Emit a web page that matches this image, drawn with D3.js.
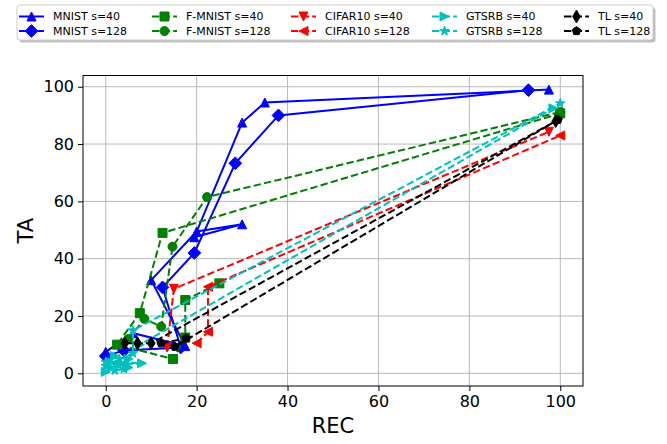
<!DOCTYPE html>
<html>
<head>
<meta charset="utf-8">
<script src="https://cdn.jsdelivr.net/npm/d3@7"></script>
<style>
  body { margin: 0; background: #fff; }
  svg { display: block; font-family: "DejaVu Sans", sans-serif; }
</style>
</head>
<body>
<svg width="667" height="444"></svg>
<script>
// values: [REC, TA]
var mnist40   = [[0, 7.5], [6, 14], [17.5, 9.5], [10, 32.5], [20, 49.5], [30, 52], [19.5, 47.5], [30, 87.5], [35, 94.5], [97.5, 99]];
var mnist128  = [[93, 98.8], [38, 90], [28.5, 73.3], [19.5, 42], [12.5, 30], [16.5, 9], [4, 8], [0, 6]];
var fmnist40  = [[25, 31.4], [17.5, 25.6], [17.5, 12.5], [14.8, 5], [2.5, 10], [7.5, 21], [12.5, 49], [100, 90.7]];
var fmnist128 = [[5, 12], [8.5, 19], [12.2, 16.3], [14.7, 44.2], [22.3, 61.5], [100, 91.2]];
var cifar40   = [[13.5, 9], [15, 29.5], [97.5, 84.3]];
var cifar128  = [[20, 10.5], [22.5, 14.5], [22.5, 30.2], [100, 83]];
var gtsrb40   = [[0, 0.5], [3, 3], [8, 3.5], [1, 4], [2, 6], [5, 2], [5, 5], [7.5, 10], [98.5, 92.5]];
var gtsrb128  = [[0, 4], [1, 2], [3, 5], [4, 1.5], [2, 1], [0, 2.5], [6, 7], [6, 15], [100, 94.2]];
var tl40      = [[4.2, 10.5], [7, 10.5], [10, 10.5], [99, 88]];
var tl128     = [[12.2, 10.5], [17.7, 12.2], [15.2, 9.3], [99.5, 88.5]];

var xTicks = [0, 20, 40, 60, 80, 100];
var yTicks = [0, 20, 40, 60, 80, 100];

var series = [
  { label: "MNIST s=40",    data: mnist40,   color: "#0000ff", marker: "^", dash: false },
  { label: "MNIST s=128",   data: mnist128,  color: "#0000ff", marker: "D", dash: false },
  { label: "F-MNIST s=40",  data: fmnist40,  color: "#008000", marker: "s", dash: true },
  { label: "F-MNIST s=128", data: fmnist128, color: "#008000", marker: "o", dash: true },
  { label: "CIFAR10 s=40",  data: cifar40,   color: "#ff0000", marker: "v", dash: true },
  { label: "CIFAR10 s=128", data: cifar128,  color: "#ff0000", marker: "<", dash: true },
  { label: "GTSRB s=40",    data: gtsrb40,   color: "#00bfbf", marker: ">", dash: true },
  { label: "GTSRB s=128",   data: gtsrb128,  color: "#00bfbf", marker: "*", dash: true },
  { label: "TL s=40",       data: tl40,      color: "#000000", marker: "d", dash: true },
  { label: "TL s=128",      data: tl128,     color: "#000000", marker: "p", dash: true }
];

var margin = { left: 83, right: 84, top: 75.5, bottom: 58 };
var W = 667, H = 444;
var ms = 9; // marker size in px

var svg = d3.select("svg");

function padded(vals) {
  var e = d3.extent(vals), r = e[1] - e[0];
  return [e[0] - 0.05 * r, e[1] + 0.05 * r];
}
var allPts = d3.merge(series.map(function (s) { return s.data; }));
var xscale = d3.scaleLinear().domain(padded(allPts.map(function (p) { return p[0]; })))
  .range([margin.left, W - margin.right]);
var yscale = d3.scaleLinear().domain(padded(allPts.map(function (p) { return p[1]; })))
  .range([H - margin.bottom, margin.top]);

// marker shapes, matplotlib-like
function markerPath(m, size) {
  var h = size / 2;
  function poly(pts) { return "M" + pts.map(function (p) { return p[0].toFixed(2) + "," + p[1].toFixed(2); }).join("L") + "Z"; }
  function regular(n, r, inner) {
    var pts = [];
    for (var i = 0; i < n; i++) {
      var a = -Math.PI / 2 + i * 2 * Math.PI / n;
      pts.push([r * Math.cos(a), r * Math.sin(a)]);
      if (inner) {
        var b = a + Math.PI / n;
        pts.push([r * inner * Math.cos(b), r * inner * Math.sin(b)]);
      }
    }
    return poly(pts);
  }
  var d = h * Math.SQRT2;
  switch (m) {
    case "^": return poly([[0, -h], [h, h], [-h, h]]);
    case "v": return poly([[0, h], [h, -h], [-h, -h]]);
    case "<": return poly([[-h, 0], [h, -h], [h, h]]);
    case ">": return poly([[h, 0], [-h, -h], [-h, h]]);
    case "D": return poly([[0, -d], [d, 0], [0, d], [-d, 0]]);
    case "d": return poly([[0, -d], [d * 0.6, 0], [0, d], [-d * 0.6, 0]]);
    case "s": return poly([[-h, -h], [h, -h], [h, h], [-h, h]]);
    case "o": return "M" + h + ",0A" + h + "," + h + " 0 1,1 " + (-h) + ",0A" + h + "," + h + " 0 1,1 " + h + ",0Z";
    case "*": return regular(5, h * 1.1, 0.381966);
    case "p": return regular(5, h);
  }
}

// grid
var grid = svg.append("g");
grid.selectAll(".gx").data(xTicks).enter().append("line")
  .attr("x1", function (d) { return xscale(d); }).attr("x2", function (d) { return xscale(d); })
  .attr("y1", margin.top).attr("y2", H - margin.bottom)
  .attr("stroke", "#b0b0b0").attr("stroke-width", 0.9);
grid.selectAll(".gy").data(yTicks).enter().append("line")
  .attr("y1", function (d) { return yscale(d); }).attr("y2", function (d) { return yscale(d); })
  .attr("x1", margin.left).attr("x2", W - margin.right)
  .attr("stroke", "#b0b0b0").attr("stroke-width", 0.9);

// lines + markers
var line = d3.line().x(function (p) { return xscale(p[0]); }).y(function (p) { return yscale(p[1]); });
series.forEach(function (s) {
  var g = svg.append("g");
  g.append("path").attr("d", line(s.data))
    .attr("fill", "none").attr("stroke", s.color).attr("stroke-width", 2)
    .attr("stroke-dasharray", s.dash ? "7.4,3.2" : null);
  g.selectAll("path.mk").data(s.data).enter().append("path")
    .attr("class", "mk")
    .attr("d", markerPath(s.marker, ms))
    .attr("transform", function (p) { return "translate(" + xscale(p[0]) + "," + yscale(p[1]) + ")"; })
    .attr("fill", s.color).attr("stroke", s.color).attr("stroke-width", 1);
});

// frame
svg.append("rect")
  .attr("x", margin.left).attr("y", margin.top)
  .attr("width", W - margin.left - margin.right).attr("height", H - margin.top - margin.bottom)
  .attr("fill", "none").attr("stroke", "#000").attr("stroke-width", 1);

// axes
var xAxis = svg.append("g").attr("transform", "translate(0," + (H - margin.bottom) + ")")
  .call(d3.axisBottom(xscale).tickValues(xTicks).tickSize(5).tickPadding(5).tickSizeOuter(0));
var yAxis = svg.append("g").attr("transform", "translate(" + margin.left + ",0)")
  .call(d3.axisLeft(yscale).tickValues(yTicks).tickSize(5).tickPadding(4).tickSizeOuter(0));
[xAxis, yAxis].forEach(function (a) {
  a.select(".domain").remove();
  a.selectAll("text").attr("font-size", 16).attr("font-family", "DejaVu Sans").attr("fill", "#000");
  a.selectAll("line").attr("stroke", "#000");
});

svg.append("text").attr("x", xscale(50)).attr("y", 433)
  .attr("text-anchor", "middle").attr("font-size", 21).text("REC");
svg.append("text").attr("transform", "translate(33," + ((margin.top + H - margin.bottom) / 2) + ") rotate(-90)")
  .attr("text-anchor", "middle").attr("font-size", 21).text("TA");

// legend, 5 columns x 2 rows
var legX = [19, 152, 291, 432, 564];
var legY = [16.5, 31];
var leg = svg.append("g");
leg.append("rect").attr("x", 19.5).attr("y", 7.5).attr("width", 636).attr("height", 35).attr("rx", 3)
  .attr("fill", "#808080").attr("opacity", 0.5);
leg.append("rect").attr("x", 17).attr("y", 5).attr("width", 636).attr("height", 35).attr("rx", 3)
  .attr("fill", "#fff").attr("stroke", "#cccccc").attr("stroke-width", 1);
series.forEach(function (s, i) {
  var cx = legX[Math.floor(i / 2)], cy = legY[i % 2];
  var it = leg.append("g").attr("transform", "translate(" + cx + "," + cy + ")");
  it.append("line").attr("x1", 0).attr("x2", 25).attr("y1", 0).attr("y2", 0)
    .attr("stroke", s.color).attr("stroke-width", 2)
    .attr("stroke-dasharray", s.dash ? "7.4,3.2" : null);
  it.append("path").attr("d", markerPath(s.marker, ms)).attr("transform", "translate(12.5,0)")
    .attr("fill", s.color).attr("stroke", s.color);
  it.append("text").attr("x", 34).attr("y", 0).attr("dy", "0.35em")
    .attr("font-size", 11).attr("fill", "#000").text(s.label);
});
</script>
</body>
</html>
